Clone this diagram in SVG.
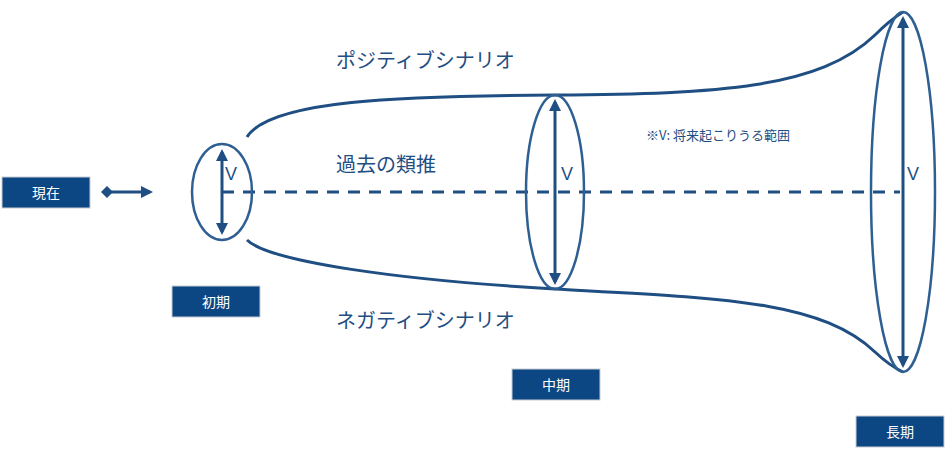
<svg xmlns="http://www.w3.org/2000/svg" width="946" height="451" viewBox="0 0 946 451">
<style>
.box{fill:#0c4783;stroke:#c8cdd3;stroke-width:1}
.bt{fill:#fff;font-family:"Noto Sans CJK JP","Noto Sans",sans-serif;font-size:14px;text-anchor:middle}
.ln{fill:none;stroke:#1f4e82;stroke-width:3}
.el{fill:none;stroke:#2e5f92;stroke-width:2.5}
.t{fill:#1f4e82;font-family:"Noto Sans CJK JP","Noto Sans",sans-serif}
.v{fill:#1f4e82;font-family:"Liberation Sans",sans-serif;font-size:18px}
</style>
<defs>
<marker id="ah" markerWidth="4" markerHeight="4" refX="3" refY="2" orient="auto-start-reverse" markerUnits="strokeWidth"><path d="M0,0L4,2L0,4z" fill="#1f4e82"/></marker>
<marker id="dm" markerWidth="4" markerHeight="4" refX="2" refY="2" orient="auto" markerUnits="strokeWidth"><path d="M0,2L2,0L4,2L2,4z" fill="#1f4e82"/></marker>
</defs>
<g id="connectors">
<path class="ln" d="M247,137 C270,100 400,96 555,95 C720,94 820,88 875,35 Q890,20 903,12"/>
<path class="ln" d="M247,240 C270,262 400,280 555,289 C720,298 820,300 875,352 Q890,366 903,372"/>
<line class="ln" x1="222" y1="192" x2="900" y2="192" stroke-dasharray="12,9"/>
<line class="ln" x1="107" y1="192" x2="150" y2="192" marker-start="url(#dm)" marker-end="url(#ah)"/>
<line class="ln" x1="222" y1="152" x2="222" y2="232" marker-start="url(#ah)" marker-end="url(#ah)"/>
<line class="ln" x1="555" y1="102" x2="555" y2="282" marker-start="url(#ah)" marker-end="url(#ah)"/>
<line class="ln" x1="903" y1="19" x2="903" y2="365" marker-start="url(#ah)" marker-end="url(#ah)"/>
</g>
<g id="e1"><ellipse class="el" cx="222" cy="192" rx="30" ry="48"/><text class="v" x="225" y="180">V</text></g>
<g id="e2"><ellipse class="el" cx="555" cy="192" rx="29" ry="97"/><text class="v" x="561" y="180">V</text></g>
<g id="e3"><ellipse class="el" cx="903" cy="192" rx="32" ry="180"/><text class="v" x="907" y="180">V</text></g>
<g id="genzai"><rect class="box" x="2" y="177" width="88" height="31"/><text class="bt" x="46" y="198">現在</text></g>
<g id="shoki"><rect class="box" x="172" y="286" width="88" height="31"/><text class="bt" x="216" y="307">初期</text></g>
<g id="chuki"><rect class="box" x="512" y="369" width="88" height="31"/><text class="bt" x="556" y="390">中期</text></g>
<g id="choki"><rect class="box" x="856" y="416" width="88" height="31"/><text class="bt" x="900" y="437">長期</text></g>
<g id="labels">
<text class="t" x="336" y="68" font-size="20">ポジティブシナリオ</text>
<text class="t" x="336" y="172" font-size="20">過去の類推</text>
<text class="t" x="336" y="328" font-size="20">ネガティブシナリオ</text>
<text class="t" x="646" y="140" font-size="13">※V: 将来起こりうる範囲</text>
</g>
</svg>
